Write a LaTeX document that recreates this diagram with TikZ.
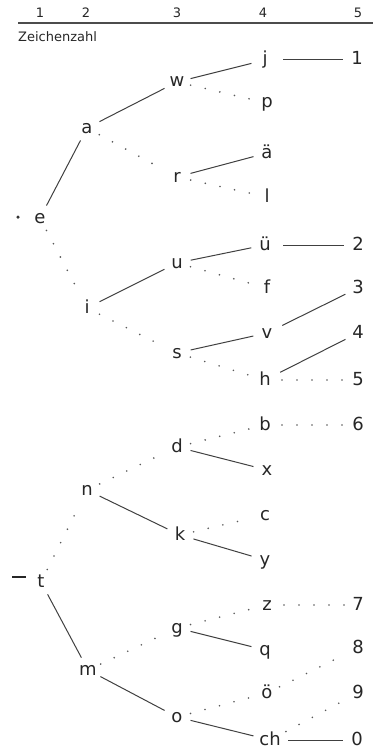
\documentclass[tikz,border=0pt]{standalone}
\usepackage{fontspec}
\setmainfont{DejaVu Sans}
\begin{document}
\begin{tikzpicture}[x=1pt,y=-1pt,
  lt/.style={inner sep=0pt, text height=10pt, text depth=0pt, font=\fontsize{18}{20}\selectfont, text=black!85},
  hd/.style={inner sep=0pt, font=\fontsize{13}{15}\selectfont, text=black!85},
  sol/.style={draw=black!75, line width=1pt, shorten >=14pt, shorten <=14pt},
  dts/.style={draw=black!65, line width=1.8pt, line cap=round, dash pattern=on 0pt off 15pt, shorten >=14pt, shorten <=14pt}]
\useasboundingbox (0,0) rectangle (381,749);
% header
\node[hd] (h1) at (40,13) {1};
\node[hd] (h2) at (86,13) {2};
\node[hd] (h3) at (177,13) {3};
\node[hd] (h4) at (263,13) {4};
\node[hd] (h5) at (358,13) {5};
\coordinate (hl) at (18,23);
\coordinate (hr) at (373,23);
\draw[black!70, line width=1.2pt] (hl) -- (hr);
\node[hd, anchor=west] (zz) at (18,37) {Zeichenzahl};
% marks
\node (edot) [circle, fill=black!80, inner sep=0pt, minimum size=3.5pt] at (18,217) {};
\node (tdash) [fill=black!85, inner sep=0pt, minimum width=14pt, minimum height=2.6pt] at (19,577) {};
% letters, upper tree
\node[lt] (Le) at (40,218) {e};
\node[lt] (La) at (87,128) {a};
\node[lt] (Li) at (87,308) {i};
\node[lt] (Lw) at (177,82) {w};
\node[lt] (Lr) at (177,177) {r};
\node[lt] (Lu) at (177,263) {u};
\node[lt] (Ls) at (177,353) {s};
\node[lt] (Lj) at (265,60) {j};
\node[lt] (Lp) at (267,103) {p};
\node[lt] (Lae) at (267,153) {ä};
\node[lt] (Ll) at (267,197) {l};
\node[lt] (Lue) at (265,245) {ü};
\node[lt] (Lf) at (267,288) {f};
\node[lt] (Lv) at (267,333) {v};
\node[lt] (Lh) at (265,380) {h};
\node[lt] (N1) at (357,60) {1};
\node[lt] (N2) at (358,245) {2};
\node[lt] (N3) at (358,288) {3};
\node[lt] (N4) at (358,333) {4};
\node[lt] (N5) at (358,380) {5};
% lower tree
\node[lt] (Lt) at (41,582) {t};
\node[lt] (Ln) at (87,490) {n};
\node[lt] (Lm) at (88,670) {m};
\node[lt] (Ld) at (177,447) {d};
\node[lt] (Lk) at (180,535) {k};
\node[lt] (Lg) at (177,628) {g};
\node[lt] (Lo) at (177,717) {o};
\node[lt] (Lb) at (265,425) {b};
\node[lt] (Lx) at (267,470) {x};
\node[lt] (Lc) at (265,515) {c};
\node[lt] (Ly) at (265,560) {y};
\node[lt] (Lz) at (267,605) {z};
\node[lt] (Lq) at (265,650) {q};
\node[lt] (Loe) at (267,693) {ö};
\node[lt] (Lch) at (270,740) {ch};
\node[lt] (N6) at (358,425) {6};
\node[lt] (N7) at (358,605) {7};
\node[lt] (N8) at (358,648) {8};
\node[lt] (N9) at (358,693) {9};
\node[lt] (N0) at (357,740) {0};
% connectors upper
\draw[sol] (Le.center) -- (La.center);
\draw[dts] (Le.center) -- (Li.center);
\draw[sol] (La.center) -- (Lw.center);
\draw[dts] (La.center) -- (Lr.center);
\draw[sol] (Lw.center) -- (Lj.center);
\draw[dts] (Lw.center) -- (Lp.center);
\draw[sol] (Lr.center) -- (Lae.center);
\draw[dts] (Lr.center) -- (Ll.center);
\draw[sol, shorten <=18pt] (Lj.center) -- (N1.center);
\draw[sol] (Li.center) -- (Lu.center);
\draw[dts] (Li.center) -- (Ls.center);
\draw[sol] (Lu.center) -- (Lue.center);
\draw[dts] (Lu.center) -- (Lf.center);
\draw[sol, shorten <=18pt] (Lue.center) -- (N2.center);
\draw[sol] (Ls.center) -- (Lv.center);
\draw[dts] (Ls.center) -- (Lh.center);
\draw[sol, shorten <=17pt] (Lv.center) -- (N3.center);
\draw[sol, shorten <=17pt] (Lh.center) -- (N4.center);
\draw[dts, shorten <=17pt] (Lh.center) -- (N5.center);
% connectors lower
\draw[dts] (Lt.center) -- (Ln.center);
\draw[sol] (Lt.center) -- (Lm.center);
\draw[dts] (Ln.center) -- (Ld.center);
\draw[sol] (Ln.center) -- (Lk.center);
\draw[dts] (Ld.center) -- (Lb.center);
\draw[sol] (Ld.center) -- (Lx.center);
\draw[dts, shorten <=17pt] (Lb.center) -- (N6.center);
\draw[dts] (Lk.center) -- (Lc.center);
\draw[sol] (Lk.center) -- (Ly.center);
\draw[dts] (Lm.center) -- (Lg.center);
\draw[sol] (Lm.center) -- (Lo.center);
\draw[dts] (Lg.center) -- (Lz.center);
\draw[sol] (Lg.center) -- (Lq.center);
\draw[dts, shorten <=17pt] (Lz.center) -- (N7.center);
\draw[dts] (Lo.center) -- (Loe.center);
\draw[sol, shorten >=17pt] (Lo.center) -- (Lch.center);
\draw[dts] (Loe.center) -- (N8.center);
\draw[dts, shorten <=18pt] (Lch.center) -- (N9.center);
\draw[sol, shorten <=18pt] (Lch.center) -- (N0.center);
\end{tikzpicture}
\end{document}
